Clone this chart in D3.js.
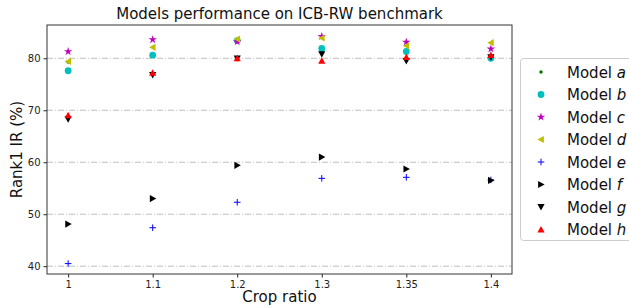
<!DOCTYPE html>
<html><head><meta charset="utf-8">
<script src="https://cdn.jsdelivr.net/npm/d3@7"></script>
<style>body{margin:0;background:#fff;font-family:"DejaVu Sans",sans-serif;}</style>
</head><body><svg id="c" width="629" height="308"></svg>
<script>
const categories = ["1","1.1","1.2","1.3","1.35","1.4"];
const yTicks = [40,50,60,70,80];
const modelA = [79.3, 80.6, 83.4, 81.2, 81.0, 80.1];
const modelB = [77.6, 80.6, 83.4, 81.9, 81.3, 80.0];
const modelC = [81.3, 83.6, 83.2, 84.2, 83.1, 81.8];
const modelD = [79.4, 82.1, 83.7, 83.9, 82.4, 83.0];
const modelE = [40.5, 47.4, 52.3, 56.9, 57.1, 56.6];
const modelF = [48.1, 53.0, 59.4, 61.0, 58.7, 56.5];
const modelG = [68.3, 76.8, 80.0, 80.8, 79.5, 80.2];
const modelH = [69.0, 77.2, 80.0, 79.5, 80.2, 80.6];
const names = ["a","b","c","d","e","f","g","h"];
const colors = ["#008000","#00bfbf","#bf00bf","#bfbf00","#0000ff","#000000","#000000","#ff0000"];
const shapes = ["dot","circle","star","tleft","plus","tright","tdown","tup"];
const series = [modelA,modelB,modelC,modelD,modelE,modelF,modelG,modelH];

const svg = d3.select("#c");
const L=47, R=512, T=25, B=274;
const x = d3.scaleLinear().domain([-0.25, categories.length-0.75]).range([L,R]);
const y = d3.scaleLinear().domain([38.5, 86.4]).range([B,T]);

svg.append("g").selectAll("line").data(yTicks).join("line")
  .attr("x1",L).attr("x2",R).attr("y1",d=>y(d)).attr("y2",d=>y(d))
  .attr("stroke","#b0b0b0").attr("stroke-width",0.8).attr("stroke-dasharray","6,2,1,2");

function marker(g, shape, color){
  const s=3.6;
  if(shape==="dot") g.append("circle").attr("r",1.8).attr("fill",color);
  else if(shape==="circle") g.append("circle").attr("r",3.4).attr("fill",color);
  else if(shape==="star") g.append("path").attr("d",d3.symbol(d3.symbolStar,22)()).attr("fill",color);
  else if(shape==="plus") g.append("path").attr("d",`M-3.3,0H3.3M0,-3.3V3.3`).attr("stroke",color).attr("stroke-width",1).attr("fill","none");
  else {
    let p;
    if(shape==="tup") p=`M0,${-s}L${s},${s*0.8}L${-s},${s*0.8}Z`;
    if(shape==="tdown") p=`M0,${s}L${s},${-s*0.8}L${-s},${-s*0.8}Z`;
    if(shape==="tleft") p=`M${-s},0L${s*0.8},${-s}L${s*0.8},${s}Z`;
    if(shape==="tright") p=`M${s},0L${-s*0.8},${-s}L${-s*0.8},${s}Z`;
    g.append("path").attr("d",p).attr("fill",color);
  }
}

series.forEach((vals,i)=>{
  const g = svg.append("g");
  vals.forEach((v,j)=>{
    const m = g.append("g").attr("transform",`translate(${x(j)},${y(v)})`);
    marker(m, shapes[i], colors[i]);
  });
});

const xAxis = d3.axisBottom(x).tickValues(d3.range(categories.length)).tickFormat(i=>categories[i]).tickSize(3.5);
const yAxis = d3.axisLeft(y).tickValues(yTicks).tickSize(3.5);
const gx = svg.append("g").attr("transform",`translate(0,${B})`).call(xAxis);
const gy = svg.append("g").attr("transform",`translate(${L},0)`).call(yAxis);
[gx,gy].forEach(g=>{g.select(".domain").remove(); g.selectAll("text").attr("font-size",10).attr("fill","#222").attr("font-family","DejaVu Sans"); g.selectAll("line").attr("stroke","#222");});
svg.append("rect").attr("x",L).attr("y",T).attr("width",R-L).attr("height",B-T).attr("fill","none").attr("stroke","#333").attr("stroke-width",1);

svg.append("text").attr("x",(L+R)/2).attr("y",19).attr("text-anchor","middle").attr("font-size",15).attr("fill","#111").text("Models performance on ICB-RW benchmark");
svg.append("text").attr("x",(L+R)/2).attr("y",302).attr("text-anchor","middle").attr("font-size",15).attr("fill","#111").text("Crop ratio");
svg.append("text").attr("transform",`translate(22,${(T+B)/2}) rotate(-90)`).attr("text-anchor","middle").attr("font-size",15).attr("fill","#111").text("Rank1 IR (%)");

const lg = svg.append("g");
lg.append("rect").attr("x",520.5).attr("y",58.5).attr("width",120).attr("height",182).attr("rx",3).attr("fill","#fff").attr("stroke","#ccc");
names.forEach((n,i)=>{
  const yy = 72 + i*22.5;
  const m = lg.append("g").attr("transform",`translate(541,${yy})`);
  marker(m, shapes[i], colors[i]);
  const t = lg.append("text").attr("x",567).attr("y",yy+5.5).attr("font-size",15).attr("fill","#111");
  t.append("tspan").text("Model ");
  t.append("tspan").attr("font-style","italic").text(n);
});
</script></body></html>
